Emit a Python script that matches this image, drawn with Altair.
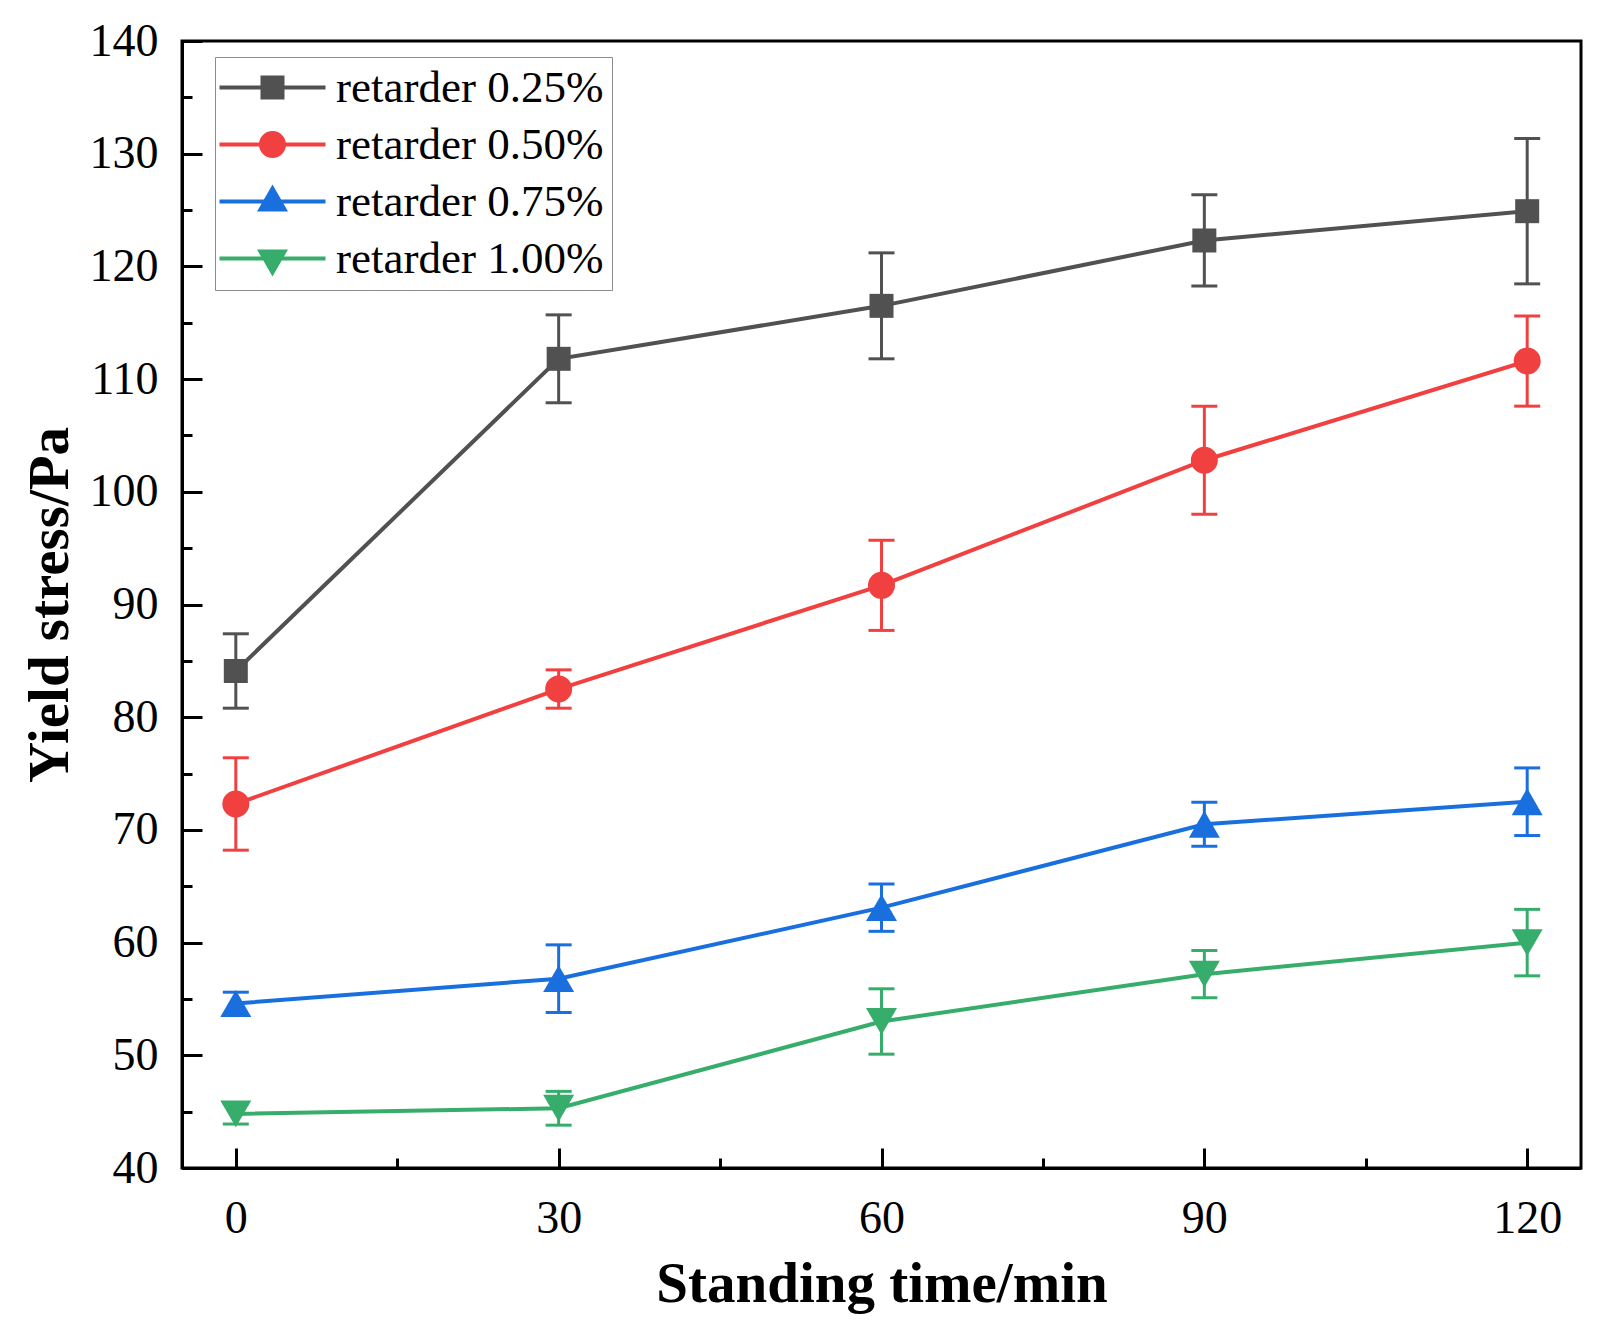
import altair as alt
import pandas as pd

# ---------------- data ----------------
times = [0, 30, 60, 90, 120]
series = ["retarder 0.25%", "retarder 0.50%", "retarder 0.75%", "retarder 1.00%"]

y_025 = [84.1, 111.8, 116.5, 122.3, 124.9]
e_025 = [3.3, 3.9, 4.7, 4.05, 6.45]
y_050 = [72.3, 82.5, 91.7, 102.8, 111.6]
e_050 = [4.1, 1.7, 4.0, 4.8, 4.0]
y_075 = [54.6, 56.8, 63.1, 70.5, 72.5]
e_075 = [1.0, 3.0, 2.1, 1.95, 3.0]
y_100 = [44.8, 45.3, 53.0, 57.2, 60.0]
e_100 = [0.9, 1.5, 2.9, 2.1, 2.95]

x_ticks = [0, 30, 60, 90, 120]
x_minor = [0, 15, 30, 45, 60, 75, 90, 105, 120]
y_ticks = [40, 50, 60, 70, 80, 90, 100, 110, 120, 130, 140]
y_minor = list(range(40, 141, 5))

colors = ["#515151", "#F14040", "#1A6FDF", "#37AD6B"]
shapes = ["square", "circle", "triangle-up", "triangle-down"]
sizes = [576, 729, 961, 961]

# legend symbols: line segment + marker (unit coords, 1 unit = 20 px)
LINE = "M-2.65,-0.1L2.65,-0.1L2.65,0.1L-2.65,0.1Z"
legend_paths = [
    LINE + "M-0.6,-0.6L0.6,-0.6L0.6,0.6L-0.6,0.6Z",
    LINE + "M-0.675,0A0.675,0.675,0,1,1,0.675,0A0.675,0.675,0,1,1,-0.675,0Z",
    LINE + "M0,-0.85L0.775,0.5L-0.775,0.5Z",
    LINE + "M-0.775,-0.45L0.775,-0.45L0,0.9Z",
]

rows = []
for name, vals, errs in zip(series, [y_025, y_050, y_075, y_100], [e_025, e_050, e_075, e_100]):
    for t, v, e in zip(times, vals, errs):
        rows.append({"series": name, "t": t, "v": v, "lo": v - e, "hi": v + e})
df = pd.DataFrame(rows)

# ---------------- layout ----------------
W, H = 1399, 1127
SERIF = "Liberation Serif"

xscale = alt.Scale(domain=[-5, 125], nice=False, zero=False)
yscale = alt.Scale(domain=[40, 140], nice=False, zero=False)
cscale = alt.Scale(domain=series, range=colors)

x_axis_main = alt.Axis(
    orient="bottom", values=x_ticks, ticks=False, grid=False, format="d",
    domainColor="black", domainWidth=3,
    labelFont=SERIF, labelFontSize=46, labelColor="black", labelPadding=28,
    title="Standing time/min", titleFont=SERIF, titleFontSize=57,
    titleFontWeight="bold", titleColor="black", titlePadding=15,
)
y_axis_main = alt.Axis(
    orient="left", values=y_ticks, ticks=False, grid=False, format="d",
    domainColor="black", domainWidth=3,
    labelFont=SERIF, labelFontSize=46, labelColor="black", labelPadding=24,
    title="Yield stress/Pa", titleFont=SERIF, titleFontSize=57,
    titleFontWeight="bold", titleColor="black", titlePadding=10,
)

x_axis_ticks = alt.Axis(
    orient="top", offset=-H, values=x_minor, labels=False, domain=False,
    grid=False, title="", tickColor="black", tickWidth=3,
    tickSize={"condition": {"test": "datum.value % 30 === 0", "value": 20}, "value": 10},
)
y_axis_ticks = alt.Axis(
    orient="right", offset=-W, values=y_minor, labels=False, domain=False,
    grid=False, title="", tickColor="black", tickWidth=3,
    tickSize={"condition": {"test": "datum.value % 10 === 0", "value": 20}, "value": 10},
)

X = alt.X("t:Q", scale=xscale, axis=x_axis_main)
color = alt.Color("series:N", scale=cscale, legend=None)

base = alt.Chart(df)

rules = base.mark_rule(strokeWidth=3).encode(
    x=X, y=alt.Y("lo:Q", scale=yscale, axis=y_axis_main), y2="hi:Q", color=color
)
caps_lo = base.mark_tick(orient="horizontal", size=26, thickness=3, opacity=1).encode(
    x=X, y=alt.Y("lo:Q", scale=yscale, axis=y_axis_main), color=color
)
caps_hi = base.mark_tick(orient="horizontal", size=26, thickness=3, opacity=1).encode(
    x=X, y=alt.Y("hi:Q", scale=yscale, axis=y_axis_main), color=color
)
lines = base.mark_line(strokeWidth=4).encode(
    x=X, y=alt.Y("v:Q", scale=yscale, axis=y_axis_main), color=color
)
points = [
    base.transform_filter(alt.datum.series == name)
    .mark_point(shape=shp, filled=True, size=sz, opacity=1, strokeWidth=0)
    .encode(x=X, y=alt.Y("v:Q", scale=yscale, axis=y_axis_main), color=color)
    for name, shp, sz in zip(series, shapes, sizes)
]

main = alt.layer(rules, caps_lo, caps_hi, lines, *points)

legend_def = dict(
    orient="none", legendX=33, legendY=16, title=None, padding=8,
    strokeColor="#8c8c8c", symbolSize=1600, symbolOffset=27, labelOffset=41,
    rowPadding=11, labelFont=SERIF, labelFontSize=45, labelColor="black",
    labelLimit=600, symbolStrokeWidth=0, symbolOpacity=1,
)

# legend + inner tick marks (no data rows; scales have explicit domains)
legend_layer = (
    base.transform_filter("false")
    .mark_point(filled=True, opacity=1, size=1600, strokeWidth=0)
    .encode(
        x=alt.X("t:Q", scale=xscale, axis=x_axis_ticks),
        y=alt.Y("v:Q", scale=yscale, axis=y_axis_ticks),
        color=alt.Color("series:N", scale=cscale, legend=alt.Legend(**legend_def)),
        shape=alt.Shape(
            "series:N",
            scale=alt.Scale(domain=series, range=legend_paths),
            legend=alt.Legend(**legend_def),
        ),
    )
)

chart = (
    alt.layer(legend_layer, main)
    .resolve_scale(x="independent", y="independent")
    .properties(
        width=W,
        height=H,
        autosize=alt.AutoSizeParams(type="none"),
        padding={"left": 174, "top": 33, "right": 12, "bottom": 159},
        background="white",
    )
    .configure_view(stroke="black", strokeWidth=3)
)

chart.save("out.html", embed_options={"renderer": "svg", "actions": False})
